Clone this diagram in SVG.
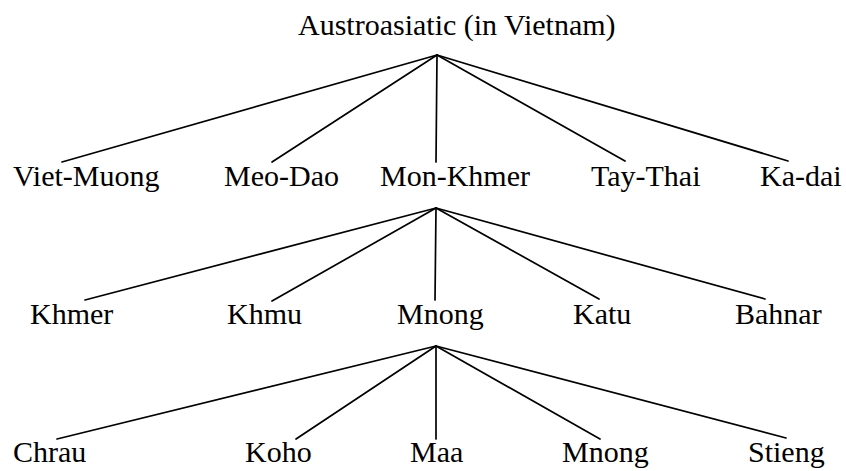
<svg xmlns="http://www.w3.org/2000/svg" width="846" height="471" viewBox="0 0 846 471">
  <style>
    text { font-family: "Liberation Serif", "Times New Roman", serif; font-size: 30px; fill: #000; }
    .edge { stroke: #000; stroke-width: 1.7; fill: none; stroke-linecap: round; }
  </style>
  <rect width="846" height="471" fill="#fff"/>

  <!-- connectors: three fans, each from a parent apex to its five children -->
  <g id="connectors">
    <line class="edge" x1="437" y1="55" x2="62" y2="162"/>
    <line class="edge" x1="437" y1="55" x2="272" y2="162"/>
    <line class="edge" x1="437" y1="55" x2="436" y2="162"/>
    <line class="edge" x1="437" y1="55" x2="625" y2="161"/>
    <line class="edge" x1="437" y1="55" x2="788" y2="161"/>

    <line class="edge" x1="436" y1="208" x2="85" y2="300"/>
    <line class="edge" x1="436" y1="208" x2="272" y2="301"/>
    <line class="edge" x1="436" y1="208" x2="435" y2="300"/>
    <line class="edge" x1="436" y1="208" x2="599" y2="299"/>
    <line class="edge" x1="436" y1="208" x2="765" y2="299"/>

    <line class="edge" x1="436" y1="346" x2="57" y2="439"/>
    <line class="edge" x1="436" y1="346" x2="296" y2="439"/>
    <line class="edge" x1="436" y1="346" x2="436" y2="439"/>
    <line class="edge" x1="436" y1="346" x2="600" y2="439"/>
    <line class="edge" x1="436" y1="346" x2="786" y2="438"/>
  </g>

  <g id="austroasiatic"><text x="298" y="35">Austroasiatic (in Vietnam)</text></g>

  <g id="viet-muong"><text x="13" y="186">Viet-Muong</text></g>
  <g id="meo-dao"><text x="224" y="186">Meo-Dao</text></g>
  <g id="mon-khmer"><text x="380" y="186">Mon-Khmer</text></g>
  <g id="tay-thai"><text x="591" y="186">Tay-Thai</text></g>
  <g id="ka-dai"><text x="760" y="186">Ka-dai</text></g>

  <g id="khmer"><text x="30" y="324">Khmer</text></g>
  <g id="khmu"><text x="227" y="324">Khmu</text></g>
  <g id="mnong-branch"><text x="397" y="324">Mnong</text></g>
  <g id="katu"><text x="573" y="324">Katu</text></g>
  <g id="bahnar"><text x="735" y="324">Bahnar</text></g>

  <g id="chrau"><text x="13" y="462">Chrau</text></g>
  <g id="koho"><text x="245" y="462">Koho</text></g>
  <g id="maa"><text x="410" y="462">Maa</text></g>
  <g id="mnong"><text x="562" y="462">Mnong</text></g>
  <g id="stieng"><text x="748" y="462">Stieng</text></g>
</svg>
